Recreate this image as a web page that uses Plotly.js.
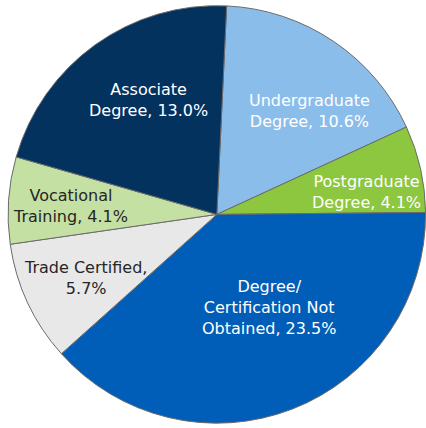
<!DOCTYPE html>
<html>
<head>
<meta charset="utf-8">
<script src="https://cdn.plot.ly/plotly-3.0.1.min.js"></script>
<style>html,body{margin:0;padding:0;background:#fff;}#chart{width:426px;height:428px;}</style>
</head>
<body>
<div id="chart"></div>
<script>
// Data
const categories = ["Undergraduate Degree", "Postgraduate Degree", "Degree/ Certification Not Obtained", "Trade Certified", "Vocational Training", "Associate Degree"];
const labelText = ["Undergraduate<br>Degree, 10.6%", "Postgraduate<br>Degree, 4.1%", "Degree/<br>Certification Not<br>Obtained, 23.5%", "Trade Certified,<br>5.7%", "Vocational<br>Training, 4.1%", "Associate<br>Degree, 13.0%"];
const values = [10.6, 4.1, 23.5, 5.7, 4.1, 13.0];

// Styles
const colors = ["#8BBDEA", "#8DC63F", "#005EB8", "#E8E8E8", "#C5E0A3", "#03325F"];
const textColors = ["#FFFFFF", "#FFFFFF", "#FFFFFF", "#262626", "#262626", "#FFFFFF"];
const labelDist = [0.667, 0.725, 0.51, 0.70, 0.70, 0.64];
const labelShift = [7.8, 4.3, -8, -0.9, -0.6, 5];
const rotation = 2.7;

const W = 426, H = 428;
const dom = {x: [0.019, 0.999], y: [0.007, 0.991]};
const cx = (dom.x[0] + dom.x[1]) / 2 * W;
const cy = (1 - (dom.y[0] + dom.y[1]) / 2) * H;
const R = Math.min((dom.x[1] - dom.x[0]) * W, (dom.y[1] - dom.y[0]) * H) / 2;

const total = values.reduce((a, b) => a + b, 0);
let acc = rotation;
const annotations = values.map((v, i) => {
  const span = v / total * 360;
  const mid = acc + span / 2 + labelShift[i];
  acc += span;
  const a = mid * Math.PI / 180;
  const px = cx + labelDist[i] * R * Math.sin(a);
  const py = cy - labelDist[i] * R * Math.cos(a);
  return {
    x: px / W, y: 1 - py / H, xref: "paper", yref: "paper",
    text: labelText[i], showarrow: false, xanchor: "center", yanchor: "middle",
    align: "center",
    font: {family: "DejaVu Sans", size: 16, color: textColors[i]}
  };
});

const trace = {
  type: "pie",
  labels: categories,
  values: values,
  sort: false,
  direction: "clockwise",
  rotation: rotation,
  textinfo: "none",
  hoverinfo: "label+value",
  marker: {colors: colors, line: {color: "#6b6b6b", width: 1}},
  domain: dom
};

const layout = {
  width: W, height: H,
  margin: {l: 0, r: 0, t: 0, b: 0},
  showlegend: false,
  paper_bgcolor: "#ffffff",
  font: {family: "DejaVu Sans"},
  annotations: annotations
};

Plotly.newPlot("chart", [trace], layout, {displayModeBar: false, staticPlot: true});
</script>
</body>
</html>
